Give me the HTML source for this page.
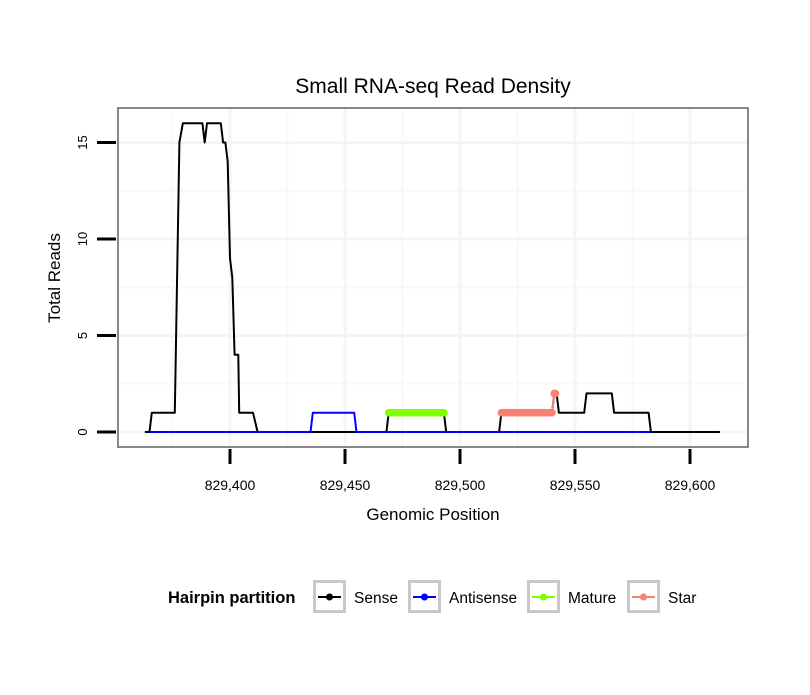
<!DOCTYPE html>
<html><head><meta charset="utf-8"><style>
body{margin:0;background:#fff;}
svg text{font-family:"Liberation Sans",Arial,sans-serif;}
</style></head><body>
<svg id="chart" width="810" height="690" viewBox="0 0 810 690" xmlns="http://www.w3.org/2000/svg">
<rect width="810" height="690" fill="#fff"/>
<text x="433" y="93" font-size="21" text-anchor="middle">Small RNA-seq Read Density</text>
<g id="grid"></g>
<g id="axes"></g>
<g id="series"></g>
<rect x="118" y="108" width="630" height="339" fill="none" stroke="#888" stroke-width="2"/>
<text x="433" y="520" font-size="17" text-anchor="middle">Genomic Position</text>
<text transform="translate(60,278) rotate(-90)" font-size="17" text-anchor="middle">Total Reads</text>
<g id="legend">
<text x="168" y="603" font-size="16.5" font-weight="bold">Hairpin partition</text>
</g>
</svg>
<script>
const xTicks=[829400,829450,829500,829550,829600];
const yTicks=[0,5,10,15];
const senseX=[829363,829365,829366,829376,829378,829379.5,829388,829389,829390,829396,829397,829398,829399,829400,829401,829402,829403.6,829404,829410,829412,829468,829469,829493,829494,829517,829518,829540,829541,829542,829543,829554,829555,829566,829567,829582,829583,829613];
const senseY=[0,0,1,1,15,16,16,15,16,16,15,15,14,9,8,4,4,1,1,0,0,1,1,0,0,1,1,2,2,1,1,2,2,1,1,0,0];
const antiX=[829365,829435,829436,829454,829455,829583];
const antiY=[0,0,1,1,0,0];
const matureX=[829469,829470,829471,829472,829473,829474,829475,829476,829477,829478,829479,829480,829481,829482,829483,829484,829485,829486,829487,829488,829489,829490,829491,829492,829493];
const matureY=matureX.map(()=>1);
const starX=[829518,829519,829520,829521,829522,829523,829524,829525,829526,829527,829528,829529,829530,829531,829532,829533,829534,829535,829536,829537,829538,829539,829540,829541,829541.5];
const starY=[1,1,1,1,1,1,1,1,1,1,1,1,1,1,1,1,1,1,1,1,1,1,1,2,2];
const legendLabels=["Sense","Antisense","Mature","Star"];
const legendColors=["#000000","#0000ff","#7fff00","#fa8072"];

const NS="http://www.w3.org/2000/svg";
const X=v=>230+(v-829400)*2.3;
const Y=v=>432-v*19.3;
function mk(tag,attrs,parent){const e=document.createElementNS(NS,tag);for(const k in attrs)e.setAttribute(k,attrs[k]);parent.appendChild(e);return e;}
const grid=document.getElementById('grid'),axes=document.getElementById('axes'),ser=document.getElementById('series');
mk('rect',{x:118,y:108,width:630,height:339,fill:'#fff'},grid);
for(let i=0;i<xTicks.length;i++){const v=xTicks[i]-25;const l=mk('line',{x1:X(v),x2:X(v),y1:108,y2:447,stroke:'#f8f8f8','stroke-width':2},grid);}
{const v=xTicks[xTicks.length-1]+25;const l=mk('line',{x1:X(v),x2:X(v),y1:108,y2:447,stroke:'#f8f8f8','stroke-width':2},grid);}
for(const t of yTicks){if(Y(t+2.5)<108)continue;const l=mk('line',{x1:118,x2:748,y1:Y(t+2.5),y2:Y(t+2.5),stroke:'#f8f8f8','stroke-width':2},grid);}
for(const t of xTicks){const l=mk('line',{x1:X(t),x2:X(t),y1:108,y2:447,stroke:'#f4f4f4','stroke-width':3},grid);}
for(const t of yTicks){const l=mk('line',{x1:118,x2:748,y1:Y(t),y2:Y(t),stroke:'#f4f4f4','stroke-width':3},grid);}
for(const t of xTicks){
 const l=mk('line',{x1:X(t),x2:X(t),y1:449,y2:464,stroke:'#000','stroke-width':3},axes);
 
 const tx=mk('text',{x:X(t),y:490,'font-size':14,'text-anchor':'middle'},axes);
 tx.textContent=t.toLocaleString('en-US');
 
}
for(const t of yTicks){
 const l=mk('line',{x1:97,x2:116,y1:Y(t),y2:Y(t),stroke:'#000','stroke-width':3},axes);
 
 const tx=mk('text',{transform:`translate(87,${Y(t)}) rotate(-90)`,'font-size':13,'text-anchor':'middle'},axes);
 tx.textContent=t;
 
}
function line(xs,ys,color,name){
 const p=mk('polyline',{points:xs.map((x,i)=>X(x)+','+Y(ys[i])).join(' '),fill:'none',stroke:color,'stroke-width':2,'stroke-linejoin':'round'},ser);
 
}
function pts(xs,ys,color,name){
 xs.forEach((x,i)=>{const c=mk('circle',{cx:X(x),cy:Y(ys[i]),r:3.8,fill:color},ser);
 });
}
line(senseX,senseY,'#000','sense-line');
line(antiX,antiY,'#0000ff','antisense-line');
line(matureX,matureY,'#7fff00','mature-line');pts(matureX,matureY,'#7fff00','mature-point');
line(starX,starY,'#fa8072','star-line');pts(starX,starY,'#fa8072','star-point');
const lg=document.getElementById('legend');
const boxX=[313,408,527,627];
legendLabels.forEach((lab,i)=>{
 const g=mk('g',{},lg);
 
 mk('rect',{x:boxX[i]+1.5,y:581.5,width:30,height:30,fill:'#fff',stroke:'#c8c8c8','stroke-width':3},g);
 mk('line',{x1:boxX[i]+5,x2:boxX[i]+28,y1:597,y2:597,stroke:legendColors[i],'stroke-width':2},g);
 mk('circle',{cx:boxX[i]+16.5,cy:597,r:3.5,fill:legendColors[i]},g);
 const t=mk('text',{x:boxX[i]+41,y:603,'font-size':15.5},g);t.textContent=lab;
});
</script>
</body></html>
